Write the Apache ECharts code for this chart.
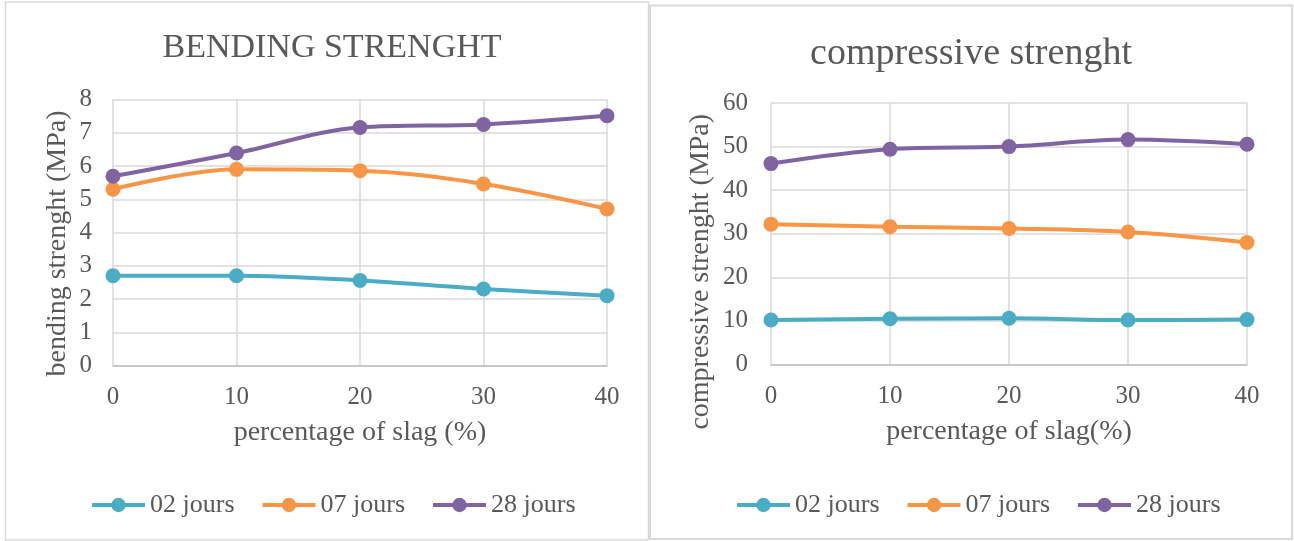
<!DOCTYPE html>
<html>
<head>
<meta charset="utf-8">
<script src="https://cdn.jsdelivr.net/npm/echarts@6/dist/echarts.min.js"></script>
<style>
html,body{margin:0;padding:0;background:#fff;}
#chart{width:1294px;height:541px;}
</style>
</head>
<body>
<div id="chart"></div>
<script>
// ---- data ----
const slagPercent = [0, 10, 20, 30, 40];
const seriesNames = ['02 jours', '07 jours', '28 jours'];
const bending02 = [2.7, 2.7, 2.56, 2.3, 2.1];
const bending07 = [5.3, 5.9, 5.86, 5.46, 4.71];
const bending28 = [5.69, 6.39, 7.16, 7.25, 7.51];
const comp02 = [10.2, 10.5, 10.6, 10.2, 10.3];
const comp07 = [32.2, 31.6, 31.2, 30.4, 28.0];
const comp28 = [46.1, 49.4, 50.0, 51.6, 50.55];
const titleLeft = 'BENDING STRENGHT';
const titleRight = 'compressive strenght';
const xNameLeft = 'percentage of slag (%)';
const xNameRight = 'percentage of slag(%)';
const yNameLeft = 'bending strenght (MPa)';
const yNameRight = 'compressive strenght (MPa)';

const colors = ['#4BACC6', '#F79646', '#8064A2'];
const FONT = 'Liberation Serif';
const TXT = '#595959';
const GRID = '#D9D9D9';

function pairs(vals) { return slagPercent.map((x, i) => [x, vals[i]]); }

function mkSeries(name, vals, idx, color) {
  return {
    name: name, type: 'line', xAxisIndex: idx, yAxisIndex: idx,
    data: pairs(vals), smooth: 0.35,
    symbol: 'circle', symbolSize: 15,
    lineStyle: { width: 4, color: color },
    itemStyle: { color: color },
    emphasis: { disabled: true }
  };
}

function xAxisCfg(gridIndex, name) {
  return {
    type: 'value', gridIndex: gridIndex, min: 0, max: 40, interval: 10,
    name: name, nameLocation: 'middle', nameGap: 53,
    nameTextStyle: { fontFamily: FONT, fontSize: 28, color: TXT },
    axisLine: { show: true, lineStyle: { color: '#BFBFBF', width: 1.5 } },
    axisTick: { show: false },
    axisLabel: { fontFamily: FONT, fontSize: 25, color: TXT, margin: 19 },
    splitLine: { show: true, lineStyle: { color: GRID, width: 1.5 } }
  };
}

function yAxisCfg(gridIndex, name, max, interval, nameGap, shiftPad, labelMargin) {
  return {
    type: 'value', gridIndex: gridIndex, min: 0, max: max, interval: interval,
    name: name, nameLocation: 'middle', nameGap: nameGap,
    nameTextStyle: { fontFamily: FONT, fontSize: 28, color: TXT, padding: [0, shiftPad, 0, 0] },
    axisLine: { show: false },
    axisTick: { show: false },
    axisLabel: { fontFamily: FONT, fontSize: 25, color: TXT, margin: labelMargin },
    splitLine: { show: true, lineStyle: { color: GRID, width: 1.5 } }
  };
}

function legendCfg(left, names, fmt) {
  return {
    data: names, left: left, top: 492, padding: 0, itemWidth: 53, itemHeight: 18, itemGap: 26,
    textStyle: { fontFamily: FONT, fontSize: 26, color: TXT }, selectedMode: false,
    lineStyle: { width: 4 },
    formatter: fmt
  };
}

const chart = echarts.init(document.getElementById('chart'), null, { renderer: 'canvas' });
const option = {
  backgroundColor: '#ffffff',
  animation: false,
  color: colors,
  title: [
    { text: titleLeft, left: 327, top: 26, textAlign: 'center',
      textStyle: { fontFamily: FONT, fontSize: 34, fontWeight: 'normal', color: TXT } },
    { text: titleRight, left: 966, top: 30, textAlign: 'center',
      textStyle: { fontFamily: FONT, fontSize: 38, fontWeight: 'normal', color: TXT } }
  ],
  grid: [
    { left: 113, top: 99.5, width: 494, height: 266, containLabel: false },
    { left: 771, top: 103, width: 476, height: 261.5, containLabel: false }
  ],
  xAxis: [xAxisCfg(0, xNameLeft), xAxisCfg(1, xNameRight)],
  yAxis: [
    yAxisCfg(0, yNameLeft, 8, 1, 41, 22, 21),
    yAxisCfg(1, yNameRight, 60, 10, 56, 76, 23)
  ],
  legend: [
    legendCfg(90, seriesNames, n => n),
    legendCfg(735, seriesNames.map(n => n + ' '), n => n.trim())
  ],
  series: [
    mkSeries(seriesNames[0], bending02, 0, colors[0]),
    mkSeries(seriesNames[1], bending07, 0, colors[1]),
    mkSeries(seriesNames[2], bending28, 0, colors[2]),
    mkSeries(seriesNames[0] + ' ', comp02, 1, colors[0]),
    mkSeries(seriesNames[1] + ' ', comp07, 1, colors[1]),
    mkSeries(seriesNames[2] + ' ', comp28, 1, colors[2])
  ],
  graphic: [
    { type: 'rect', shape: { x: 5.5, y: 2, width: 643, height: 538 }, silent: true,
      style: { fill: 'none', stroke: GRID, lineWidth: 1.5 } },
    { type: 'rect', shape: { x: 650, y: 5.5, width: 642, height: 533.5 }, silent: true,
      style: { fill: 'none', stroke: GRID, lineWidth: 2 } }
  ]
};
chart.setOption(option);
</script>
</body>
</html>
